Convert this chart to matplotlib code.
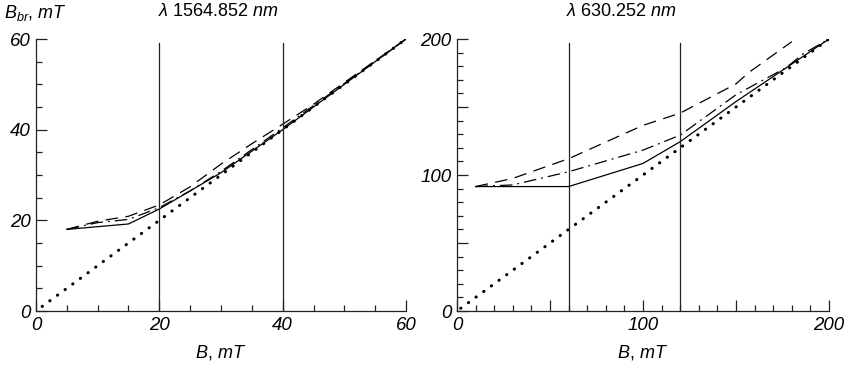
import matplotlib
matplotlib.use("Agg")
import matplotlib.pyplot as plt
from matplotlib.ticker import MultipleLocator, FuncFormatter

# left panel: lambda 1564.852 nm
b1_solid = [5, 15, 20, 30, 40, 50, 60]
v1_solid = [18.0, 19.2, 22.5, 30.5, 40.0, 50.0, 60.0]
b1_dash = [5, 10, 15, 20, 25, 30, 35, 40, 45, 50, 55, 60]
v1_dash = [18.0, 19.8, 20.9, 23.4, 27.4, 32.4, 36.9, 41.2, 45.6, 50.4, 55.2, 60.0]
b1_dashdot = [5, 10, 15, 20, 25, 30, 35, 40, 45, 50, 55, 60]
v1_dashdot = [18.0, 19.5, 20.2, 22.8, 26.5, 30.8, 35.6, 40.4, 45.3, 50.2, 55.0, 60.0]
b1_ident = [1, 60]
v1_ident = [1, 60]
b1_vlines = [20, 40]
v1_vtop = 59.2

# right panel: lambda 630.252 nm
b2_solid = [10, 60, 100, 120, 150, 200]
v2_solid = [91.5, 91.5, 108.5, 124.5, 154.0, 200.0]
b2_dash = [10, 30, 60, 100, 120, 150, 157, 180]
v2_dash = [91.5, 97.5, 112.0, 136.5, 145.5, 167.0, 175.5, 198.0]
b2_dashdot = [10, 30, 60, 100, 120, 150, 177, 186, 200]
v2_dashdot = [91.5, 92.7, 102.4, 118.3, 129.3, 159.0, 179.0, 189.0, 200.0]
b2_ident = [2, 200]
v2_ident = [2, 200]
b2_vlines = [60, 120]
v2_vtop = 197

plt.rcParams["font.family"] = ["Liberation Sans", "DejaVu Sans"]
plt.rcParams["mathtext.fontset"] = "custom"
plt.rcParams["mathtext.it"] = "Liberation Sans:italic"
plt.rcParams["mathtext.rm"] = "Liberation Sans"

fig = plt.figure(figsize=(8.45, 3.83), dpi=100)
ax1 = fig.add_axes([36 / 845, 1 - 311 / 383, 370 / 845, 272 / 383])
ax2 = fig.add_axes([457 / 845, 1 - 311 / 383, 372 / 845, 272 / 383])


def draw(ax, bs, vs, bd, vd, bdd, vdd, bi, vi, vl, vtop):
    lw = 0.9
    ax.plot(bs, vs, color="black", lw=lw, ls="-")
    ax.plot(bd, vd, color="black", lw=lw, ls=(0, (10, 6)))
    ax.plot(bdd, vdd, color="black", lw=lw, ls=(0, (10, 4, 1.5, 4)))
    ax.plot(bi, vi, color="black", lw=2.2, ls=(0, (0.1, 3.0)), dash_capstyle="round")
    for x in vl:
        ax.plot([x, x], [0, vtop], color="#222222", lw=0.9)
    for s in ["top", "right"]:
        ax.spines[s].set_visible(False)
    for s in ["left", "bottom"]:
        ax.spines[s].set_color("#222222")
        ax.spines[s].set_linewidth(0.9)
    ax.tick_params(which="both", direction="in", color="#222222", width=0.9, pad=4)
    ax.tick_params(which="major", length=8)
    ax.tick_params(which="minor", length=4)


draw(ax1, b1_solid, v1_solid, b1_dash, v1_dash, b1_dashdot, v1_dashdot,
     b1_ident, v1_ident, b1_vlines, v1_vtop)
ax1.set_xlim(0, 60)
ax1.set_ylim(0, 60)
ax1.xaxis.set_major_locator(MultipleLocator(20))
ax1.yaxis.set_major_locator(MultipleLocator(20))
ax1.xaxis.set_minor_locator(MultipleLocator(5))
ax1.yaxis.set_minor_locator(MultipleLocator(5))

draw(ax2, b2_solid, v2_solid, b2_dash, v2_dash, b2_dashdot, v2_dashdot,
     b2_ident, v2_ident, b2_vlines, v2_vtop)
ax2.set_xlim(0, 200)
ax2.set_ylim(0, 200)
only_hundreds = FuncFormatter(lambda v, p: f"{v:.0f}" if round(v) % 100 == 0 else "")
for axis in (ax2.xaxis, ax2.yaxis):
    axis.set_major_locator(MultipleLocator(50))
    axis.set_minor_locator(MultipleLocator(10))
    axis.set_major_formatter(only_hundreds)

for ax in (ax1, ax2):
    for lab in ax.get_xticklabels() + ax.get_yticklabels():
        lab.set_fontstyle("italic")
        lab.set_fontsize(13.5)

fig.text(218 / 845, 1 - 12 / 383, r"$\lambda$ 1564.852 $nm$", ha="center", va="center", fontsize=13)
fig.text(621 / 845, 1 - 12 / 383, r"$\lambda$ 630.252 $nm$", ha="center", va="center", fontsize=13)
fig.text(4 / 845, 1 - 13 / 383, r"$B_{br}$, $mT$", ha="left", va="center", fontsize=13)
fig.text(221 / 845, 1 - 352 / 383, r"$B$, $mT$", ha="center", va="center", fontsize=13)
fig.text(643 / 845, 1 - 352 / 383, r"$B$, $mT$", ha="center", va="center", fontsize=13)

fig.savefig("out.png", dpi=100)
